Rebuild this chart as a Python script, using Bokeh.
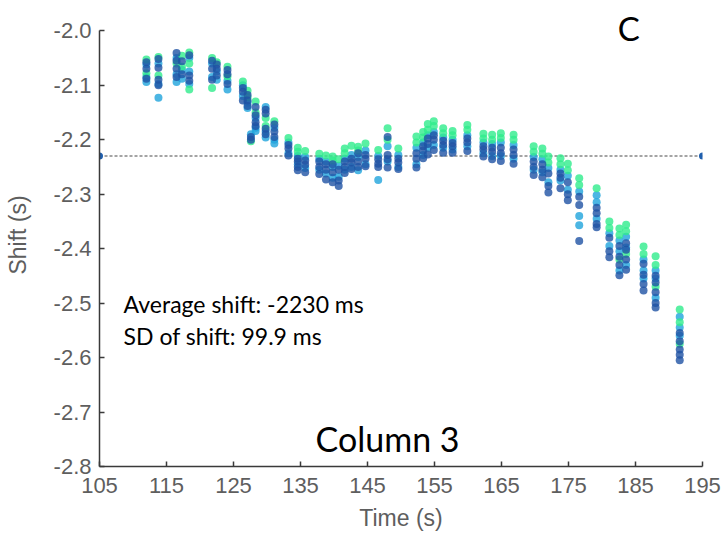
from bokeh.plotting import figure
from bokeh.models import Range1d, FixedTicker, Label
from bokeh.embed import file_html
from bokeh.resources import INLINE

# ---- data ----
col_time = [112.0, 113.8, 116.5, 117.3, 118.4, 121.8, 122.5, 124.1, 126.4, 127.1,
            128.3, 127.6, 129.8, 131.1, 133.2, 134.6, 135.7, 137.8, 138.8, 139.8,
            140.7, 141.6, 142.6, 143.6, 144.7, 146.6, 148.0, 149.6, 152.3, 153.3,
            154.0, 154.9, 156.3, 157.7, 159.9, 162.3, 163.6, 164.9, 166.8, 169.8,
            171.1, 172.0, 173.8, 174.9, 176.6, 179.2, 181.1, 182.6, 183.6, 186.2,
            188.0, 191.6]

col_green = [
    [-2.053, -2.078], [-2.048, -2.082], [-2.060], [-2.046, -2.066], [-2.040, -2.060, -2.108],
    [-2.050, -2.105], [-2.058], [-2.066, -2.084], [-2.093], [-2.110, -2.122],
    [-2.130, -2.150], [-2.203], [-2.160, -2.175], [-2.166], [-2.197],
    [-2.215, -2.222], [-2.221], [-2.226], [-2.229], [-2.231, -2.238],
    [-2.236], [-2.216, -2.225], [-2.211], [-2.213, -2.220], [-2.207],
    [-2.219], [-2.179, -2.200], [-2.216], [-2.194, -2.205], [-2.186, -2.196],
    [-2.171, -2.182], [-2.166, -2.175], [-2.179, -2.188], [-2.184, -2.192], [-2.173, -2.182],
    [-2.189, -2.198], [-2.191, -2.200], [-2.188, -2.197], [-2.191, -2.200], [-2.212, -2.222],
    [-2.216, -2.226], [-2.231, -2.242], [-2.234, -2.245], [-2.244, -2.256], [-2.271, -2.283],
    [-2.289], [-2.350, -2.362], [-2.363, -2.375, -2.420], [-2.356, -2.368, -2.410], [-2.396, -2.410],
    [-2.414, -2.430, -2.470], [-2.512, -2.535, -2.575],
]

col_cyan = [
    [-2.062, -2.085, -2.094], [-2.060, -2.098, -2.123], [-2.050, -2.080, -2.094], [-2.072, -2.088],
    [-2.050, -2.075, -2.098], [-2.060, -2.085], [-2.075, -2.090], [-2.092, -2.108],
    [-2.100, -2.120], [-2.132, -2.142], [-2.160, -2.178, -2.184], [-2.190],
    [-2.140, -2.185, -2.196], [-2.178, -2.200, -2.207], [-2.205, -2.225], [-2.230, -2.245],
    [-2.232, -2.252], [-2.235, -2.255], [-2.240, -2.262], [-2.250, -2.270],
    [-2.248, -2.268], [-2.235, -2.255], [-2.228, -2.250], [-2.232, -2.256],
    [-2.220, -2.245], [-2.230, -2.274], [-2.212, -2.240], [-2.228, -2.250],
    [-2.215, -2.245], [-2.205, -2.228], [-2.192, -2.215], [-2.186, -2.210],
    [-2.196, -2.215], [-2.200, -2.218], [-2.192, -2.212], [-2.205, -2.225],
    [-2.208, -2.230], [-2.205, -2.230], [-2.210, -2.235], [-2.232, -2.255],
    [-2.236, -2.260], [-2.252, -2.278], [-2.255, -2.275], [-2.266, -2.292],
    [-2.295, -2.340, -2.357], [-2.302, -2.315, -2.345], [-2.372, -2.395], [-2.385, -2.405, -2.440],
    [-2.378, -2.398, -2.430], [-2.420, -2.440, -2.455], [-2.440, -2.455, -2.490], [-2.525, -2.545, -2.560],
]

col_blue = [
    [-2.058, -2.070, -2.088], [-2.052, -2.068, -2.090, -2.100], [-2.041, -2.055, -2.070, -2.085],
    [-2.056, -2.080], [-2.045, -2.082, -2.092], [-2.055, -2.070, -2.090], [-2.062, -2.070, -2.082],
    [-2.072, -2.080, -2.098], [-2.105, -2.112, -2.128], [-2.118, -2.128, -2.138],
    [-2.140, -2.155, -2.168, -2.175], [-2.195, -2.200], [-2.145, -2.152, -2.180, -2.190],
    [-2.172, -2.185, -2.195], [-2.210, -2.216, -2.229], [-2.235, -2.240, -2.250, -2.256],
    [-2.238, -2.246, -2.260], [-2.240, -2.250, -2.263], [-2.245, -2.255, -2.273],
    [-2.245, -2.260, -2.278], [-2.255, -2.275, -2.285], [-2.240, -2.250, -2.261],
    [-2.235, -2.242, -2.254], [-2.225, -2.240, -2.250], [-2.228, -2.235, -2.249],
    [-2.236, -2.244, -2.250], [-2.195, -2.228, -2.236, -2.251], [-2.235, -2.242, -2.254],
    [-2.225, -2.235, -2.251], [-2.212, -2.220, -2.234], [-2.198, -2.208, -2.227],
    [-2.192, -2.200, -2.219], [-2.202, -2.210, -2.224], [-2.206, -2.212, -2.224],
    [-2.198, -2.205, -2.221], [-2.212, -2.218, -2.231], [-2.215, -2.222, -2.236],
    [-2.215, -2.225, -2.239], [-2.218, -2.228, -2.244], [-2.240, -2.250, -2.265],
    [-2.245, -2.255, -2.269], [-2.262, -2.285, -2.297], [-2.262, -2.270, -2.289],
    [-2.278, -2.300, -2.311], [-2.305, -2.320, -2.386], [-2.325, -2.335, -2.355, -2.361],
    [-2.380, -2.405, -2.416], [-2.395, -2.415, -2.430, -2.449], [-2.390, -2.402, -2.420, -2.439],
    [-2.428, -2.448, -2.465, -2.477], [-2.450, -2.462, -2.480, -2.500, -2.508],
    [-2.555, -2.570, -2.585, -2.595, -2.605],
]

avg_shift = -2.23
avg_x = [105, 195]
x_ticks = [105, 115, 125, 135, 145, 155, 165, 175, 185, 195]
y_ticks = [-2.8, -2.7, -2.6, -2.5, -2.4, -2.3, -2.2, -2.1, -2.0]
y_tick_labels = ["-2.8", "-2.7", "-2.6", "-2.5", "-2.4", "-2.3", "-2.2", "-2.1", "-2.0"]


def flatten(cols):
    xs, ys = [], []
    for t, vals in zip(col_time, cols):
        for v in vals:
            xs.append(t)
            ys.append(v)
    return xs, ys


p = figure(width=722, height=535, output_backend="svg", toolbar_location=None,
           x_range=Range1d(105, 195), y_range=Range1d(-2.8, -1.95),
           min_border_left=99, min_border_right=20, min_border_top=3, min_border_bottom=69)
p.outline_line_color = None
p.grid.visible = False
p.background_fill_color = "white"
p.border_fill_color = "white"

# average line
p.line(avg_x, [avg_shift, avg_shift], line_color="#4a4a4a", line_width=1.2, line_dash="3 2")
p.scatter(avg_x, [avg_shift, avg_shift], size=7, fill_color="#1f5fae", line_color=None)

for cols, color in [(col_cyan, "#1fa4dc"), (col_green, "#30ec8c"), (col_blue, "#1f52a4")]:
    xs, ys = flatten(cols)
    p.scatter(xs, ys, size=8, fill_color=color, fill_alpha=0.8, line_color=None)

# axes
for ax in (p.xaxis[0], p.yaxis[0]):
    ax.axis_line_color = "#3a3a3a"
    ax.axis_line_width = 1.5
    ax.major_tick_line_color = "#3a3a3a"
    ax.major_tick_line_width = 1.5
    ax.major_tick_in = 5
    ax.major_tick_out = 0
    ax.minor_tick_line_color = None
    ax.major_label_text_font = "Liberation Sans"
    ax.major_label_text_font_size = "22px"
    ax.major_label_text_color = "#5e5e5e"
    ax.axis_label_text_font = "Liberation Sans"
    ax.axis_label_text_font_size = "23px"
    ax.axis_label_text_color = "#5e5e5e"
    ax.axis_label_text_font_style = "normal"

p.yaxis[0].bounds = (-2.8, -2.0)
p.xaxis[0].ticker = FixedTicker(ticks=x_ticks)
p.yaxis[0].ticker = FixedTicker(ticks=y_ticks)
p.yaxis[0].major_label_overrides = {t: s for t, s in zip(y_ticks, y_tick_labels)}
p.xaxis[0].axis_label = "Time (s)"
p.yaxis[0].axis_label = "Shift (s)"
p.xaxis[0].major_label_standoff = 11
p.yaxis[0].major_label_standoff = 8
p.xaxis[0].axis_label_standoff = 9
p.yaxis[0].axis_label_standoff = 20

font = "Lato"
p.add_layout(Label(x=108.6, y=-2.501, text="Average shift: -2230 ms", text_font=font,
                   text_font_size="23px", text_color="black", text_baseline="middle"))
p.add_layout(Label(x=108.6, y=-2.560, text="SD of shift: 99.9 ms", text_font=font,
                   text_font_size="23px", text_color="black", text_baseline="middle"))
p.add_layout(Label(x=148.0, y=-2.749, text="Column 3", text_font=font,
                   text_font_size="34px", text_color="black", text_baseline="middle",
                   text_align="center"))
p.add_layout(Label(x=184.0, y=-1.995, text="C", text_font=font,
                   text_font_size="33px", text_color="black", text_baseline="middle",
                   text_align="center"))

open("out.html", "w").write(file_html(p, INLINE))
